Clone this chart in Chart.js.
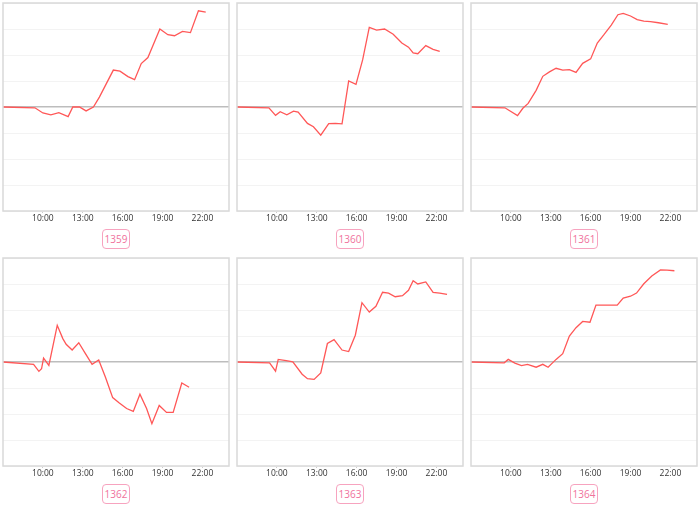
<!DOCTYPE html>
<html>
<head>
<meta charset="utf-8">
<script src="https://cdn.jsdelivr.net/npm/chart.js@4.4.1/dist/chart.umd.min.js"></script>
<style>
  html, body { margin: 0; padding: 0; background: #fff; width: 700px; height: 509px; overflow: hidden; font-family: "Open Sans", "Noto Sans", sans-serif; }
  .panel { position: absolute; }
  .lbl { position: absolute; width: 26px; height: 18px; border: 1px solid #f7a3bf; border-radius: 4px; color: #f0729c; font-size: 10px; line-height: 18px; text-align: center; font-family: "Open Sans", "Noto Sans", sans-serif; }
</style>
</head>
<body>
<script>
// ---- Data (hours of day on x, value on y) ----
const panelLabels = ["1359", "1360", "1361", "1362", "1363", "1364"];
const tickHours = [10, 13, 16, 19, 22];
const tickLabels = ["10:00", "13:00", "16:00", "19:00", "22:00"];

const hours1359 = [7.0, 9.4, 10.0, 10.6, 11.2, 11.9, 12.25, 12.75, 13.25, 13.8, 14.25, 15.3, 15.8, 16.4, 16.9, 17.4, 17.9, 18.8, 19.4, 19.9, 20.5, 21.1, 21.7, 22.25];
const values1359 = [0, -0.03, -0.23, -0.3, -0.22, -0.37, 0, 0, -0.15, 0, 0.38, 1.42, 1.38, 1.17, 1.05, 1.67, 1.9, 3.0, 2.78, 2.74, 2.91, 2.86, 3.7, 3.65];

const hours1360 = [7.0, 9.4, 9.9, 10.25, 10.75, 11.25, 11.6, 12.3, 12.75, 13.3, 13.9, 14.4, 14.9, 15.4, 15.95, 16.45, 16.95, 17.5, 18.1, 18.75, 19.4, 19.9, 20.25, 20.6, 21.2, 21.75, 22.25];
const values1360 = [0, -0.03, -0.32, -0.18, -0.3, -0.16, -0.2, -0.63, -0.76, -1.08, -0.64, -0.63, -0.65, 1.0, 0.87, 1.81, 3.06, 2.96, 3.0, 2.8, 2.46, 2.3, 2.08, 2.05, 2.36, 2.22, 2.14];

const hours1361 = [7.0, 9.55, 10.5, 10.9, 11.3, 11.9, 12.4, 12.9, 13.4, 13.9, 14.4, 14.9, 15.4, 16.0, 16.5, 17.0, 17.55, 18.05, 18.45, 19.0, 19.5, 20.0, 20.5, 21.1, 21.8];
const values1361 = [0, -0.03, -0.33, -0.05, 0.14, 0.64, 1.18, 1.35, 1.49, 1.42, 1.44, 1.33, 1.68, 1.85, 2.46, 2.78, 3.15, 3.55, 3.6, 3.5, 3.36, 3.3, 3.28, 3.24, 3.18];

const hours1362 = [7.0, 9.3, 9.7, 9.9, 10.05, 10.45, 11.08, 11.5, 11.75, 12.2, 12.7, 13.2, 13.7, 14.2, 14.7, 15.25, 15.75, 16.3, 16.8, 17.3, 17.8, 18.2, 18.75, 19.3, 19.8, 20.45, 21.0];
const values1362 = [0, -0.09, -0.36, -0.26, 0.15, -0.13, 1.41, 0.9, 0.68, 0.46, 0.74, 0.32, -0.09, 0.08, -0.58, -1.37, -1.58, -1.79, -1.9, -1.24, -1.79, -2.37, -1.67, -1.94, -1.94, -0.81, -0.97];

const hours1363 = [7.0, 9.45, 9.9, 10.1, 10.7, 11.2, 11.9, 12.3, 12.8, 13.3, 13.8, 14.3, 14.9, 15.4, 15.9, 16.4, 16.95, 17.45, 17.95, 18.4, 18.9, 19.45, 19.9, 20.25, 20.6, 21.2, 21.75, 22.25, 22.8];
const values1363 = [0, -0.03, -0.35, 0.1, 0.05, 0.01, -0.47, -0.64, -0.67, -0.42, 0.71, 0.86, 0.46, 0.4, 1.03, 2.28, 1.92, 2.14, 2.68, 2.65, 2.51, 2.55, 2.76, 3.13, 3.0, 3.08, 2.68, 2.65, 2.6];

const hours1364 = [7.0, 9.5, 9.8, 10.3, 10.8, 11.25, 11.9, 12.4, 12.8, 13.4, 13.9, 14.4, 14.9, 15.4, 15.95, 16.4, 17.0, 17.5, 18.0, 18.45, 19.0, 19.45, 20.0, 20.6, 21.25, 21.75, 22.3];
const values1364 = [0, -0.03, 0.1, -0.04, -0.14, -0.09, -0.2, -0.09, -0.2, 0.1, 0.32, 1.0, 1.32, 1.56, 1.53, 2.19, 2.19, 2.19, 2.19, 2.46, 2.53, 2.65, 3.01, 3.31, 3.54, 3.53, 3.51];

const panelHours = [hours1359, hours1360, hours1361, hours1362, hours1363, hours1364];
const panelValues = [values1359, values1360, values1361, values1362, values1363, values1364];

// ---- Layout ----
const colLeft = [3, 237, 471];
const rowTop = [3, 258];
const plotW = 226, plotH = 208;
const axisH = 14;

const boxPlugin = {
  id: 'box',
  afterDraw(chart) {
    const a = chart.chartArea, c = chart.ctx;
    c.save();
    c.strokeStyle = '#d9d9d9';
    c.lineWidth = 1.5;
    c.strokeRect(a.left, a.top, a.right - a.left, a.bottom - a.top);
    c.restore();
  }
};

panelLabels.forEach((name, i) => {
  const col = i % 3, row = Math.floor(i / 3);
  const cv = document.createElement('canvas');
  cv.className = 'panel';
  const cw = plotW + 2, chh = plotH + 1 + axisH;
  cv.style.left = (colLeft[col] - 1) + 'px';
  cv.style.top = (rowTop[row] - 1) + 'px';
  cv.style.width = cw + 'px';
  cv.style.height = chh + 'px';
  cv.width = cw; cv.height = chh;
  document.body.appendChild(cv);

  const pts = panelHours[i].map((h, k) => ({ x: h, y: panelValues[i][k] }));

  new Chart(cv, {
    type: 'line',
    data: { datasets: [{ data: pts, borderColor: '#ff5757', borderWidth: 1.3, pointRadius: 0, tension: 0, fill: false }] },
    options: {
      responsive: false, animation: false, devicePixelRatio: 1,
      layout: { padding: { left: 1, right: 1, top: 1, bottom: 0 } },
      plugins: { legend: { display: false }, tooltip: { enabled: false } },
      scales: {
        x: {
          type: 'linear', min: 7, max: 24,
          afterBuildTicks(axis) { axis.ticks = tickHours.map(v => ({ value: v })); },
          afterFit(axis) { axis.height = axisH; },
          ticks: {
            autoSkip: false, maxRotation: 0, padding: 0,
            color: '#333', font: { size: 8.5, family: '"Open Sans", "Noto Sans", sans-serif' },
            callback(v) { const k = tickHours.indexOf(v); return k >= 0 ? tickLabels[k] : ''; }
          },
          grid: { drawOnChartArea: false, drawTicks: true, tickLength: 2, color: '#cccccc' },
          border: { display: false }
        },
        y: {
          min: -4, max: 4,
          ticks: { display: false, stepSize: 1 },
          grid: {
            drawTicks: false,
            color(ctx) { return ctx.tick && ctx.tick.value === 0 ? '#bdbdbd' : '#f3f3f3'; },
            lineWidth(ctx) { return ctx.tick && ctx.tick.value === 0 ? 1.5 : 1; }
          },
          border: { display: false }
        }
      }
    },
    plugins: [boxPlugin]
  });

  const lb = document.createElement('div');
  lb.className = 'lbl';
  lb.textContent = name;
  lb.style.left = (colLeft[col] + plotW / 2 - 14) + 'px';
  lb.style.top = (rowTop[row] + 226) + 'px';
  document.body.appendChild(lb);
});
</script>
</body>
</html>
